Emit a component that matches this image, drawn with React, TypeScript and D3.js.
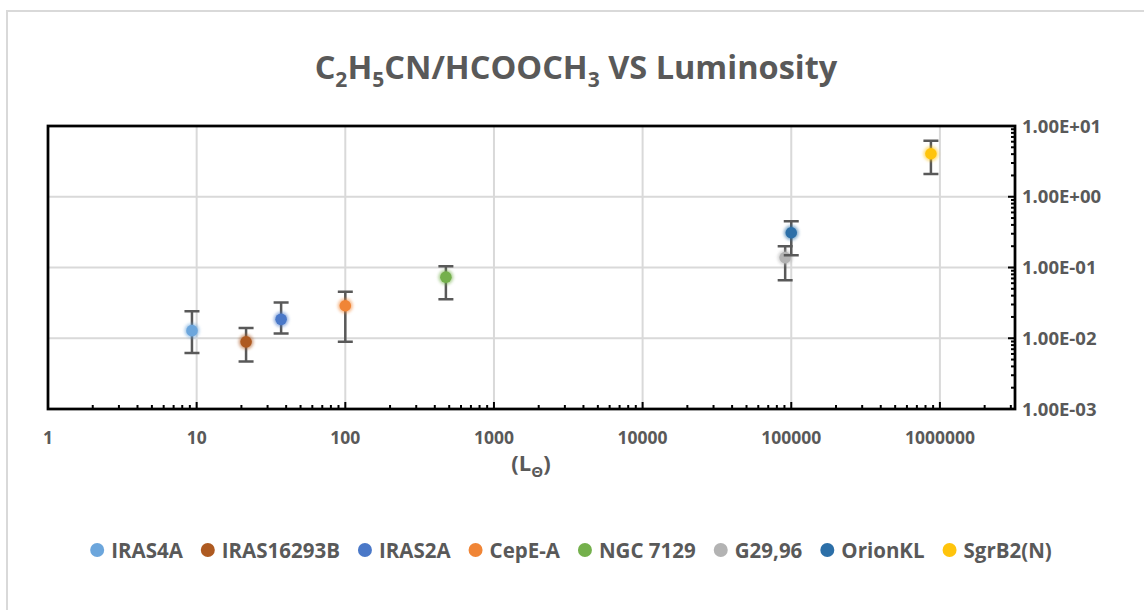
import { useEffect, useRef } from 'react';
import * as d3 from 'd3';

const W = 1144
const H = 610
const plot = { left: 48, right: 1015, top: 126, bottom: 409 }

const sources = ['IRAS4A', 'IRAS16293B', 'IRAS2A', 'CepE-A', 'NGC 7129', 'G29,96', 'OrionKL', 'SgrB2(N)']
const luminosity = [9.3, 21.5, 37, 100, 475, 91000, 100000, 870000]
const ratio = [0.0128, 0.0089, 0.0185, 0.0288, 0.073, 0.138, 0.31, 4.05]
const ratioHigh = [0.024, 0.014, 0.032, 0.0455, 0.104, 0.2, 0.45, 6.2]
const ratioLow = [0.0062, 0.0047, 0.0117, 0.0089, 0.0355, 0.066, 0.149, 2.1]
const colors = ['#6CA6DC', '#AE5A21', '#4A78C8', '#F08536', '#74B04C', '#B3B3B3', '#2C6FA8', '#FFC40C']

const xTicks = [1, 10, 100, 1000, 10000, 100000, 1000000]
const yTicks = [1e-3, 1e-2, 1e-1, 1, 10]
const yTickLabels = ['1.00E-03', '1.00E-02', '1.00E-01', '1.00E+00', '1.00E+01']

const font = "'Open Sans', 'Noto Sans', sans-serif"
const textColor = '#595959'
const gridColor = '#d9d9d9'

const App = () => {
  const d3svg = useRef(null)

  useEffect(() => {
    if (!d3svg.current) return
    const svg = d3.select(d3svg.current)
    svg.selectAll('*').remove()

    const x = d3.scaleLog().domain([1, 3.2e6]).range([plot.left, plot.right])
    const y = d3.scaleLog().domain([1e-3, 10]).range([plot.bottom, plot.top])

    // outer chart border
    svg.append('rect')
      .attr('x', 7).attr('y', 11).attr('width', W + 20).attr('height', H + 20)
      .attr('fill', '#fff').attr('stroke', gridColor).attr('stroke-width', 2)

    // glow filter for markers
    const defs = svg.append('defs')
    defs.append('filter').attr('id', 'glow').attr('x', '-100%').attr('y', '-100%').attr('width', '300%').attr('height', '300%')
      .append('feGaussianBlur').attr('stdDeviation', 1.6)

    // title
    const title = svg.append('text')
      .attr('x', 576).attr('y', 79).attr('text-anchor', 'middle')
      .attr('font-family', font).attr('font-weight', 700).attr('font-size', 32.5).attr('fill', textColor)
    const parts: [string, boolean][] = [['C', false], ['2', true], ['H', false], ['5', true], ['CN/HCOOCH', false], ['3', true], [' VS Luminosity', false]]
    let low = false
    parts.forEach(([t, sub]) => {
      const dy = sub && !low ? 8 : !sub && low ? -8 : 0
      low = sub
      title.append('tspan').attr('dy', dy).attr('font-size', sub ? 21 : 32.5).text(t)
    })

    // grid
    svg.append('g').selectAll('line').data(xTicks.slice(1)).join('line')
      .attr('x1', d => x(d)).attr('x2', d => x(d)).attr('y1', plot.top).attr('y2', plot.bottom)
      .attr('stroke', gridColor).attr('stroke-width', 2)
    svg.append('g').selectAll('line').data(yTicks.slice(1, -1)).join('line')
      .attr('x1', plot.left).attr('x2', plot.right).attr('y1', d => y(d)).attr('y2', d => y(d))
      .attr('stroke', gridColor).attr('stroke-width', 2)

    // minor ticks (inward)
    const xMinor = d3.range(0, 7).flatMap(e => d3.range(1, 10).map(m => m * Math.pow(10, e))).filter(v => v > 1 && v < 3.2e6)
    svg.append('g').selectAll('line').data(xMinor).join('line')
      .attr('x1', d => x(d)).attr('x2', d => x(d))
      .attr('y1', plot.bottom).attr('y2', d => plot.bottom - (xTicks.includes(d) ? 7 : 4))
      .attr('stroke', '#000').attr('stroke-width', 2)
    const yMinor = d3.range(-3, 1).flatMap(e => d3.range(1, 10).map(m => m * Math.pow(10, e))).filter(v => v > 1e-3)
    svg.append('g').selectAll('line').data(yMinor).join('line')
      .attr('x1', plot.right).attr('x2', d => plot.right - (yTicks.includes(d) ? 7 : 4))
      .attr('y1', d => y(d)).attr('y2', d => y(d))
      .attr('stroke', '#000').attr('stroke-width', 2)

    // frame
    svg.append('rect')
      .attr('x', plot.left).attr('y', plot.top)
      .attr('width', plot.right - plot.left).attr('height', plot.bottom - plot.top)
      .attr('fill', 'none').attr('stroke', '#000').attr('stroke-width', 2.75)

    // x tick labels
    svg.append('g').selectAll('text').data(xTicks).join('text')
      .attr('x', d => x(d)).attr('y', 444).attr('text-anchor', 'middle')
      .attr('font-family', font).attr('font-weight', 700).attr('font-size', 17.5).attr('fill', textColor)
      .text(d => String(d))

    // y tick labels (right side)
    svg.append('g').selectAll('text').data(yTicks).join('text')
      .attr('x', 1022).attr('y', d => y(d) + 6.5)
      .attr('font-family', font).attr('font-weight', 700).attr('font-size', 18.5).attr('fill', textColor)
      .text((d, i) => yTickLabels[i])

    // x axis title
    const xt = svg.append('text')
      .attr('x', 531).attr('y', 471).attr('text-anchor', 'middle')
      .attr('font-family', font).attr('font-weight', 700).attr('font-size', 22).attr('fill', textColor)
    xt.append('tspan').text('(L')
    xt.append('tspan').attr('dy', 6).attr('font-size', 15).text('Θ')
    xt.append('tspan').attr('dy', -6).text(')')

    // series: error bar then marker
    const capW = 7.5
    sources.forEach((s, i) => {
      const g = svg.append('g')
      const cx = x(luminosity[i])
      g.append('path')
        .attr('d', `M${cx},${y(ratioLow[i])}V${y(ratioHigh[i])}M${cx - capW},${y(ratioHigh[i])}H${cx + capW}M${cx - capW},${y(ratioLow[i])}H${cx + capW}`)
        .attr('stroke', '#595959').attr('stroke-width', 2.5).attr('fill', 'none')
      g.append('circle').attr('cx', cx).attr('cy', y(ratio[i])).attr('r', 7.5)
        .attr('fill', colors[i]).attr('opacity', 0.55).attr('filter', 'url(#glow)')
      g.append('circle').attr('cx', cx).attr('cy', y(ratio[i])).attr('r', 5.8)
        .attr('fill', colors[i])
    })

    // legend
    const legend = svg.append('g')
    const gap = 18
    let lx = 0
    sources.forEach((s, i) => {
      const item = legend.append('g').attr('transform', `translate(${lx},0)`)
      item.append('circle').attr('cx', 7).attr('cy', 0).attr('r', 7).attr('fill', colors[i])
      const t = item.append('text').attr('x', 21).attr('y', 7.5)
        .attr('font-family', font).attr('font-weight', 700).attr('font-size', 20.5).attr('fill', textColor)
        .text(s)
      const tw = (t.node() as SVGTextElement).getComputedTextLength()
      lx += 21 + tw + gap
    })
    const total = lx - gap
    legend.attr('transform', `translate(${571 - total / 2},550)`)
  }, [])

  return (
    <svg
      width={W}
      height={H}
      style={{ position: 'absolute', left: 0, top: 0 }}
      ref={d3svg}
    ></svg>
  )
}

export default App;
